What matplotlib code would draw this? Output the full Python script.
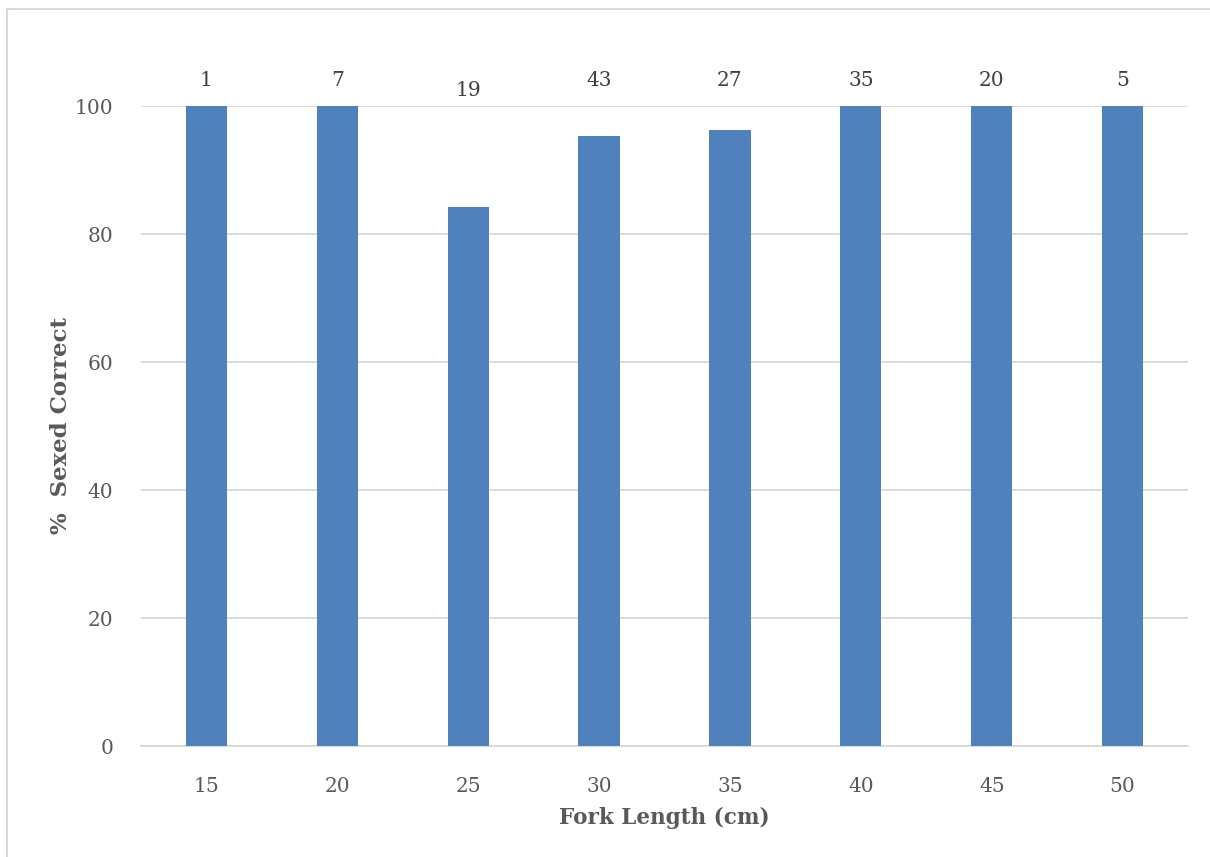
import numpy as np
import matplotlib.pyplot as plt
from matplotlib.lines import Line2D

# datos
fork_length = ['15', '20', '25', '30', '35', '40', '45', '50']
pct_correct = [100, 100, 84.2, 95.3, 96.3, 100, 100, 100]
n_fish = [1, 7, 19, 43, 27, 35, 20, 5]

plt.rcParams['font.family'] = ['DejaVu Serif']
gris = '#595959'

fig = plt.figure(figsize=(12.10, 8.57), dpi=100)
ax = fig.add_axes([141/1210, 1 - 746/857, (1188 - 141)/1210, (746 - 106)/857])

x = np.arange(len(fork_length))
ax.bar(x, pct_correct, width=0.315, color='#4F81BD', zorder=3)

# etiquetas n sobre las barras
offsets = [25, 25, 16, 25, 25, 25, 25, 25]
for xi, n, off in zip(x, n_fish, offsets):
    ax.annotate(str(n), (xi, 100), xytext=(0, off), textcoords='offset pixels',
                ha='center', va='center', fontsize=14.5, color='#404040',
                annotation_clip=False)

ax.set_xlim(-0.5, len(x) - 0.5)
ax.set_ylim(0, 100)
ax.set_yticks(range(0, 101, 20))
ax.set_xticks(x)
ax.set_xticklabels(fork_length)
ax.yaxis.grid(True, color='#D9D9D9', linewidth=1.3, zorder=0)
ax.set_axisbelow(True)
for s in ['top', 'right', 'left']:
    ax.spines[s].set_visible(False)
ax.spines['bottom'].set_color('#D9D9D9')
ax.spines['bottom'].set_linewidth(1.3)
ax.tick_params(length=0, labelsize=14.5, colors=gris)
ax.tick_params(axis='x', pad=22)
ax.tick_params(axis='y', pad=20)

ax.set_xlabel('Fork Length (cm)', fontsize=15.5, fontweight='bold', color=gris, labelpad=8)
ax.set_ylabel('%  Sexed Correct', fontsize=16.5, fontweight='bold', color=gris, labelpad=2)

# borde del área del gráfico
fig.add_artist(Line2D([7/1210, 7/1210], [0, 1 - 9/857], color='#D9D9D9', lw=1.5))
fig.add_artist(Line2D([7/1210, 1], [1 - 9/857, 1 - 9/857], color='#D9D9D9', lw=1.5))

fig.savefig('out.png', dpi=100)
